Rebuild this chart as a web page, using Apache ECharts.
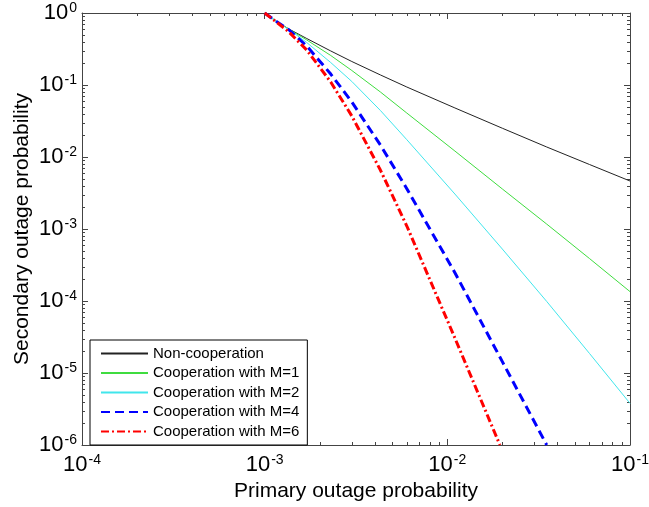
<!DOCTYPE html>
<html>
<head>
<meta charset="utf-8">
<script src="https://cdn.jsdelivr.net/npm/echarts@6/dist/echarts.min.js"></script>
<style>
html,body{margin:0;padding:0;background:#fff;}
#chart{width:649px;height:507px;}
</style>
</head>
<body>
<div id="chart"></div>
<script>
// ---- data ----
const seriesNames = ['Non-cooperation', 'Cooperation with M=1', 'Cooperation with M=2', 'Cooperation with M=4', 'Cooperation with M=6'];
const xTickExps = [-4, -3, -2, -1];
const yTickExps = [0, -1, -2, -3, -4, -5, -6];

const primaryX = [1e-3, 1.15e-3, 1.35e-3, 1.7e-3, 2.3e-3, 3e-3, 4.3e-3, 6e-3, 1.1e-2, 2e-2, 3.5e-2, 6e-2, 1e-1];
const nonCoop  = [1, 0.776, 0.604, 0.442, 0.297, 0.212, 0.138, 0.0938, 0.048, 0.0251, 0.01377, 0.00787, 0.00464];
const coopM1   = [1, 0.776, 0.600, 0.422, 0.257, 0.159, 0.080, 0.0408, 0.0121, 0.0036, 0.00117, 3.89e-4, 1.35e-4];
const coopM2   = [1, 0.776, 0.596, 0.389, 0.205, 0.112, 0.0443, 0.0174, 0.00306, 5.27e-4, 9.86e-5, 1.87e-5, 3.79e-6];
const coopM4X  = [1e-3, 1.15e-3, 1.35e-3, 1.7e-3, 2.3e-3, 3e-3, 4.3e-3, 6e-3, 1.1e-2, 2e-2, 3.5e-2];
const coopM4   = [1, 0.776, 0.590, 0.348, 0.142, 0.0581, 0.0147, 0.00363, 2.47e-4, 1.44e-5, 1e-6];
const coopM6X  = [1e-3, 1.15e-3, 1.35e-3, 1.7e-3, 2.3e-3, 3e-3, 4.3e-3, 6e-3, 1.1e-2, 1.94e-2];
const coopM6   = [1, 0.762, 0.553, 0.306, 0.110, 0.0371, 0.00659, 0.0011, 3.06e-5, 1e-6];

// minor tick positions (2..9 within each decade)
const xMinor = [];
for (let e = -4; e <= -2; e++) for (let m = 2; m <= 9; m++) xMinor.push([m * Math.pow(10, e), 1e-3]);
const yMinor = [];
for (let e = -6; e <= -1; e++) for (let m = 2; m <= 9; m++) yMinor.push([1e-3, m * Math.pow(10, e)]);

const zip = (xs, ys) => xs.map((x, i) => [x, ys[i]]);
const FONT = '"Liberation Sans", Arial, Helvetica, sans-serif';
const AXC = '#444';

function expLabel(exps) {
  return function (v) {
    const e = Math.round(Math.log10(v));
    return '{a|10}{b|' + (exps.indexOf(e) >= 0 ? e : e) + '}';
  };
}
const richLab = {
  a: { fontSize: 22, fontFamily: FONT, color: '#000', lineHeight: 24 },
  b: { fontSize: 14, fontFamily: FONT, color: '#000', verticalAlign: 'top', lineHeight: 14, padding: [0, 0, 0, 1] }
};

const chart = echarts.init(document.getElementById('chart'), null, { renderer: 'canvas' });

function minorRender(isX) {
  return function (params, api) {
    const cs = params.coordSys;
    const p = api.coord([api.value(0), api.value(1)]);
    const st = { stroke: AXC, lineWidth: 1 };
    if (isX) {
      const x = Math.round(p[0]) + 0.5;
      return { type: 'group', children: [
        { type: 'line', shape: { x1: x, y1: cs.y + cs.height, x2: x, y2: cs.y + cs.height - 3 }, style: st },
        { type: 'line', shape: { x1: x, y1: cs.y, x2: x, y2: cs.y + 3 }, style: st }
      ]};
    } else {
      const y = Math.round(p[1]) + 0.5;
      return { type: 'group', children: [
        { type: 'line', shape: { x1: cs.x, y1: y, x2: cs.x + 3, y2: y }, style: st },
        { type: 'line', shape: { x1: cs.x + cs.width, y1: y, x2: cs.x + cs.width - 3, y2: y }, style: st }
      ]};
    }
  };
}

const axisCommon = {
  type: 'log', logBase: 10,
  axisLine: { show: true, onZero: false, lineStyle: { color: AXC, width: 1 } },
  axisTick: { show: true, inside: true, length: 6, lineStyle: { color: AXC } },
  splitLine: { show: false },
  minorTick: { show: false },
  minorSplitLine: { show: false }
};

const option = {
  animation: false,
  backgroundColor: '#fff',
  grid: { left: 82, top: 13, right: 19, bottom: 62, containLabel: false, outerBoundsMode: 'none' },
  xAxis: [
    Object.assign({}, axisCommon, {
      position: 'bottom', min: 1e-4, max: 1e-1, interval: 1,
      name: 'Primary outage probability', nameLocation: 'middle', nameGap: 36, nameMoveOverlap: false,
      nameTextStyle: { fontSize: 21, fontFamily: FONT, color: '#000' },
      axisLabel: { show: true, margin: 8, formatter: expLabel(xTickExps), rich: richLab, hideOverlap: false }
    }),
    Object.assign({}, axisCommon, {
      position: 'top', min: 1e-4, max: 1e-1, interval: 1,
      axisLabel: { show: false }
    })
  ],
  yAxis: [
    Object.assign({}, axisCommon, {
      position: 'left', min: 1e-6, max: 1, interval: 1,
      name: 'Secondary outage probability', nameLocation: 'middle', nameGap: 49, nameMoveOverlap: false,
      nameTextStyle: { fontSize: 21, fontFamily: FONT, color: '#000' },
      axisLabel: { show: true, margin: 5, formatter: expLabel(yTickExps), rich: richLab, hideOverlap: false }
    }),
    Object.assign({}, axisCommon, {
      position: 'right', min: 1e-6, max: 1, interval: 1,
      axisLabel: { show: false }
    })
  ],
  legend: {
    data: seriesNames,
    orient: 'vertical',
    left: 90, top: 340,
    padding: [6, 8, 6, 10],
    itemWidth: 47, itemHeight: 14, itemGap: 4.5,
    backgroundColor: '#fff',
    borderColor: '#000', borderWidth: 1,
    selectedMode: false,
    itemStyle: { opacity: 0, borderWidth: 0 },
    textStyle: { fontSize: 15, fontFamily: FONT, color: '#000' }
  },
  series: [
    { name: seriesNames[0], type: 'line', data: zip(primaryX, nonCoop), symbol: 'none',
      lineStyle: { color: '#222', width: 1 }, itemStyle: { color: '#222' }, z: 3 },
    { name: seriesNames[1], type: 'line', data: zip(primaryX, coopM1), symbol: 'none',
      lineStyle: { color: '#3fdc3f', width: 1 }, itemStyle: { color: '#3fdc3f' }, z: 3 },
    { name: seriesNames[2], type: 'line', data: zip(primaryX, coopM2), symbol: 'none',
      lineStyle: { color: '#40e6ec', width: 1 }, itemStyle: { color: '#40e6ec' }, z: 3 },
    { name: seriesNames[3], type: 'line', data: zip(coopM4X, coopM4), symbol: 'none',
      lineStyle: { color: '#0000ff', width: 3, type: [9, 5] }, itemStyle: { color: '#0000ff' }, z: 4 },
    { name: seriesNames[4], type: 'line', data: zip(coopM6X, coopM6), symbol: 'none',
      lineStyle: { color: '#ff0000', width: 3, type: [8, 3, 2, 3] }, itemStyle: { color: '#ff0000' }, z: 5 },
    { type: 'custom', silent: true, data: xMinor, renderItem: minorRender(true), z: 2, clip: false },
    { type: 'custom', silent: true, data: yMinor, renderItem: minorRender(false), z: 2, clip: false }
  ]
};
chart.setOption(option);
</script>
</body>
</html>
